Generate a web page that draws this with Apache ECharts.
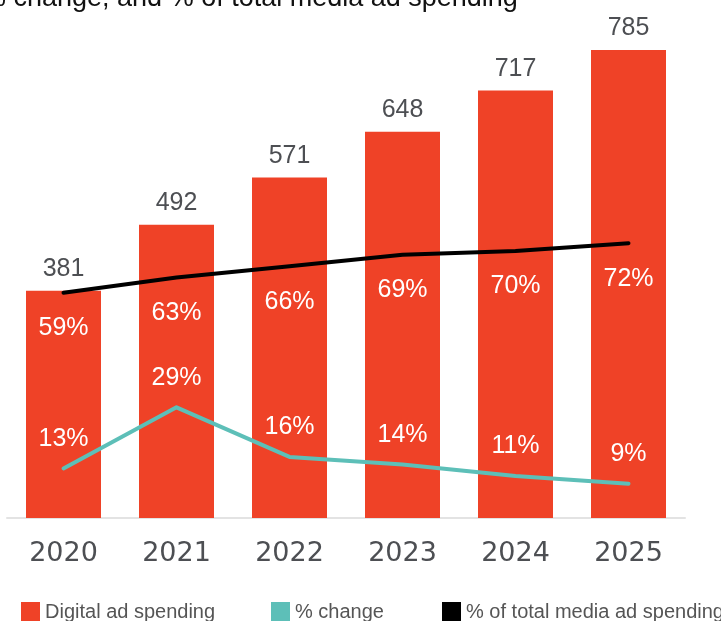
<!DOCTYPE html>
<html>
<head>
<meta charset="utf-8">
<script src="https://cdn.jsdelivr.net/npm/echarts@6/dist/echarts.min.js"></script>
<style>
  html, body { margin: 0; padding: 0; background: #fff; }
  #chart { width: 721px; height: 621px; }
</style>
</head>
<body>
<div id="chart"></div>
<script>
const years = ['2020', '2021', '2022', '2023', '2024', '2025'];
const adSpending = [381, 492, 571, 648, 717, 785];
const pctChange = [13, 29, 16, 14, 11, 9];
const pctOfTotal = [59, 63, 66, 69, 70, 72];
const seriesNames = ['Digital ad spending', '% change', '% of total media ad spending'];

const RED = '#EF4227';
const TEAL = '#5DBFB8';
const GRAY = '#4D4F53';

const chart = echarts.init(document.getElementById('chart'));

// one legend per item so each sits where the reference puts it
const legendLefts = [21, 271, 442];
const legends = seriesNames.map((name, i) => ({
  left: legendLefts[i],
  top: 602,
  padding: 0,
  itemWidth: 19,
  itemHeight: 20,
  icon: 'rect',
  selectedMode: false,
  textStyle: {
    fontFamily: 'Liberation Sans',
    fontSize: 20,
    color: '#555',
    padding: [0, 0, 4, 0]
  },
  data: [name]
}));

const option = {
  animation: false,
  title: {
    text: '% change, and % of total media ad spending',
    left: -23,
    top: -20,
    textStyle: {
      fontFamily: 'Liberation Sans',
      fontSize: 27,
      fontWeight: 'normal',
      color: '#111'
    }
  },
  legend: legends,
  grid: {
    left: 7,
    right: 36,
    top: 41,
    bottom: 103
  },
  xAxis: {
    type: 'category',
    data: years,
    axisLine: { lineStyle: { color: '#e3e3e3', width: 2 } },
    axisTick: { show: false },
    axisLabel: {
      margin: 22,
      fontFamily: 'DejaVu Sans',
      fontSize: 27,
      color: GRAY
    }
  },
  yAxis: [
    { type: 'value', min: 0, max: 800, show: false, splitLine: { show: false } },
    { type: 'value', min: 0, max: 125, show: false, splitLine: { show: false } }
  ],
  series: [
    {
      name: seriesNames[0],
      type: 'bar',
      data: adSpending,
      barWidth: 75,
      itemStyle: { color: RED },
      label: {
        show: true,
        position: 'top',
        distance: 9,
        fontFamily: 'Liberation Sans',
        fontSize: 25,
        color: GRAY
      }
    },
    {
      name: seriesNames[1],
      type: 'line',
      yAxisIndex: 1,
      data: pctChange,
      symbol: 'circle',
      symbolSize: 0,
      showSymbol: true,
      itemStyle: { color: TEAL },
      lineStyle: { color: TEAL, width: 4, cap: 'round', join: 'round' },
      label: {
        show: true,
        position: 'top',
        distance: 17,
        formatter: '{c}%',
        fontFamily: 'Liberation Sans',
        fontSize: 25,
        color: '#fff'
      }
    },
    {
      name: seriesNames[2],
      type: 'line',
      yAxisIndex: 1,
      data: pctOfTotal,
      symbol: 'circle',
      symbolSize: 0,
      showSymbol: true,
      itemStyle: { color: '#000' },
      lineStyle: { color: '#000', width: 4, cap: 'round', join: 'round' },
      label: {
        show: true,
        position: 'bottom',
        distance: 23,
        formatter: '{c}%',
        fontFamily: 'Liberation Sans',
        fontSize: 25,
        color: '#fff'
      }
    }
  ]
};

chart.setOption(option);
</script>
</body>
</html>
